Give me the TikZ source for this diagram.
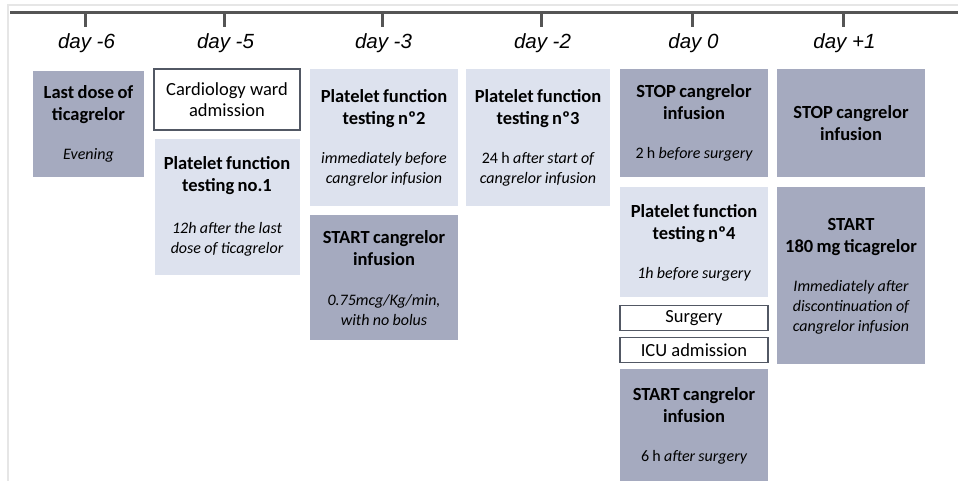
\documentclass[tikz,border=0pt]{standalone}
\usepackage{fontspec}
\setmainfont{Carlito}
\newfontfamily\dayfont{Liberation Sans}
\usetikzlibrary{positioning}

\definecolor{darkbox}{HTML}{A5AABF}
\definecolor{lightbox}{HTML}{DDE2EE}
\definecolor{boxline}{HTML}{525864}
\definecolor{axisgray}{HTML}{555555}
\definecolor{framegray}{HTML}{E6E6E6}

\newcommand{\hd}[1]{{\fontsize{18.5}{22}\selectfont\bfseries #1\par}}
\newcommand{\nt}[1]{{\fontsize{16}{20}\selectfont\itshape #1\par}}

\begin{document}
\begin{tikzpicture}[x=1pt,y=-1pt,
    every node/.style={align=center, inner sep=0pt},
    darkev/.style={fill=darkbox, text width=#1},
    darkev/.default=140pt,
    lightev/.style={fill=lightbox, text width=#1},
    lightev/.default=140pt,
    wardev/.style={draw=boxline, line width=1.3pt, fill=white,
        font=\fontsize{18.5}{21}\selectfont},
    daylabel/.style={font=\dayfont\itshape\fontsize{20.5}{24}\selectfont}]
\useasboundingbox (0,0) rectangle (958,481);

% Screenshot frame
\draw[framegray, line width=2pt] (958,5) -- (8,5) -- (8,481);

% Time axis with day ticks
\draw[axisgray, line width=3pt] (10,13) -- (958,13);
\foreach \x/\lab/\nm in {85/-6/dm6, 224/-5/dm5, 382/-3/dm3, 541/-2/dm2, 692/0/d0, 843/+1/dp1} {
    \draw[axisgray, line width=3pt] (\x,13) -- (\x,27);
    \node[daylabel] (\nm) at (\x+1.5,43) {day \lab};
}

% day -6
\node[darkev=108pt, minimum width=111pt, minimum height=106pt] (lastdose) at (88.5,124)
    {\hd{Last dose of\\ticagrelor}\vspace{19pt}\nt{Evening}};

% day -5
\node[wardev, minimum width=146pt, minimum height=61pt] (ward) at (227,99.5)
    {Cardiology ward\\admission};
\node[lightev, minimum width=145pt, minimum height=136pt, below=8pt of ward] (pft1)
    {\hd{Platelet function\\testing no.1}\vspace{22pt}\nt{12h after the last\\dose of ticagrelor}};

% day -3
\node[lightev, minimum width=148pt, minimum height=137pt] (pft2) at (384,137.5)
    {\hd{Platelet function\\testing nº2}\vspace{19pt}\nt{immediately before\\cangrelor infusion}};
\node[darkev, minimum width=148pt, minimum height=125pt, below=9pt of pft2] (startc)
    {\hd{START cangrelor\\infusion}\vspace{20pt}\nt{0.75mcg/Kg/min,\\with no bolus}};

% day -2
\node[lightev, minimum width=144pt, minimum height=137pt] (pft3) at (538,137.5)
    {\hd{Platelet function\\testing nº3}\vspace{19pt}{\fontsize{16}{20}\selectfont 24 h \itshape after start of\\cangrelor infusion\par}};

% day 0
\node[darkev, minimum width=148pt, minimum height=108pt] (stop0) at (694,123)
    {\hd{STOP cangrelor\\infusion}\vspace{19pt}{\fontsize{16}{20}\selectfont 2 h \itshape before surgery\par}};
\node[lightev, minimum width=148pt, minimum height=110pt, below=10pt of stop0] (pft4)
    {\hd{Platelet function\\testing nº4}\vspace{19pt}\nt{1h before surgery}};
\node[wardev, minimum width=148pt, minimum height=25pt, below=7pt of pft4] (surgery) {Surgery};
\node[wardev, minimum width=148pt, minimum height=25pt, below=6pt of surgery] (icu) {ICU admission};
\node[darkev, minimum width=148pt, minimum height=112pt, below=6pt of icu] (startc0)
    {\hd{START cangrelor\\infusion}\vspace{19pt}{\fontsize{16}{20}\selectfont 6 h \itshape after surgery\par}};

% day +1
\node[darkev, minimum width=148pt, minimum height=108pt] (stop1) at (851,123)
    {\hd{STOP cangrelor\\infusion}};
\node[darkev, minimum width=148pt, minimum height=177pt, below=10pt of stop1] (tica)
    {\hd{START\\180 mg ticagrelor}\vspace{19pt}\nt{Immediately after\\discontinuation of\\cangrelor infusion}};
\end{tikzpicture}
\end{document}
